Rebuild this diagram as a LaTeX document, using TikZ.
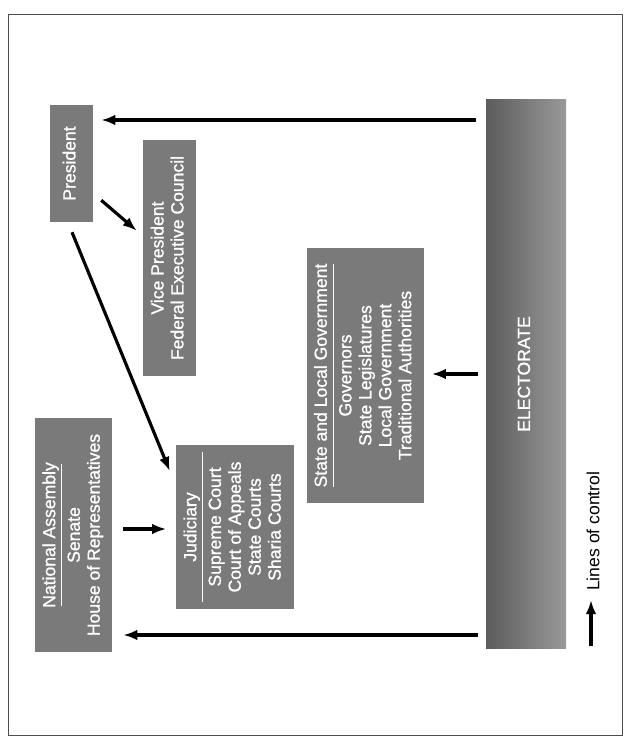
\documentclass[tikz,border=0pt]{standalone}
\usepackage{fontspec}
\setmainfont{Liberation Sans}
\newfontfamily\boxfont[FakeBold=1]{Liberation Sans}
\usepackage{graphicx}
\usetikzlibrary{arrows.meta,calc}

\tikzset{
    govbox/.style={fill=black!52, text=white, inner sep=0pt, font=\boxfont\fontsize{15}{17}\selectfont},
    ctrl/.style={line width=2.7pt, -{Latex[length=12pt,width=9pt]}},
}
% rotated text block of a box, with the rule under its title
\newcommand{\boxtext}[1]{\rotatebox{90}{\begin{tabular}{@{}c@{}}#1\end{tabular}}}
\newcommand{\boxrule}[1]{\\[-11.5pt]\rule{#1}{0.6pt}\\[-1.5pt]}

\begin{document}
\begin{tikzpicture}[x=0.03cm, y=-0.03cm]
    \useasboundingbox (0,0) rectangle (624,738);
    \draw[black!70, line width=0.8pt] (8,14) rectangle (622,735);

    \node[govbox, minimum width=1.29cm, minimum height=3.51cm] (pres) at (71.5,163.5) {\boxtext{President}};
    \node[govbox, minimum width=1.59cm, minimum height=7.08cm] (vp) at (169.5,258) {\boxtext{Vice President\\Federal Executive Council}};
    \node[govbox, minimum width=2.31cm, minimum height=7.02cm] (nass) at (73.5,535) {\boxtext{National Assembly\boxrule{122pt}Senate\\House of Representatives}};
    \node[govbox, minimum width=3.54cm, minimum height=4.92cm] (jud) at (234.5,527) {\boxtext{Judiciary\boxrule{128pt}Supreme Court\\Court of Appeals\\State Courts\\Sharia Courts}};
    \node[govbox, minimum width=3.51cm, minimum height=7.65cm] (slg) at (365,375.5) {\boxtext{State and Local Government\boxrule{191pt}Governors\\State Legislatures\\Local Government\\Traditional Authorities}};
    \node[govbox, left color=black!64, right color=black!40, minimum width=2.4cm, minimum height=16.44cm] (elect) at (526,374) {\boxtext{ELECTORATE}};

    % lines of control
    \draw[ctrl, shorten <=0.3cm, shorten >=0.24cm] (elect.west |- 0,120) -- (pres.east |- 0,120);
    \draw[ctrl, shorten <=0.24cm, shorten >=0.24cm] (elect.west |- 0,374) -- (slg.east |- 0,374);
    \draw[ctrl, shorten <=0.24cm, shorten >=0.33cm] (elect.west |- 0,635) -- (nass.east |- 0,635);
    \draw[ctrl] ($(pres.south east)+(8,-22)$) -- ($(vp.north west)+(-6,91)$);
    \draw[ctrl] ($(pres.south)+(0.5,10)$) -- ($(jud.west)+(-5.5,-56)$);
    \draw[ctrl, shorten <=0.33cm, shorten >=0.27cm] (nass.east |- 0,529) -- (jud.west |- 0,529);

    % legend
    \coordinate (legtail) at (591,646);
    \coordinate (leghead) at (591,600);
    \draw[ctrl] (legtail) -- (leghead);
    \node[anchor=south, inner sep=0pt, font=\fontsize{15}{17}\selectfont] (legtext) at (593,591) {\rotatebox{90}{Lines of control}};
\end{tikzpicture}
\end{document}
